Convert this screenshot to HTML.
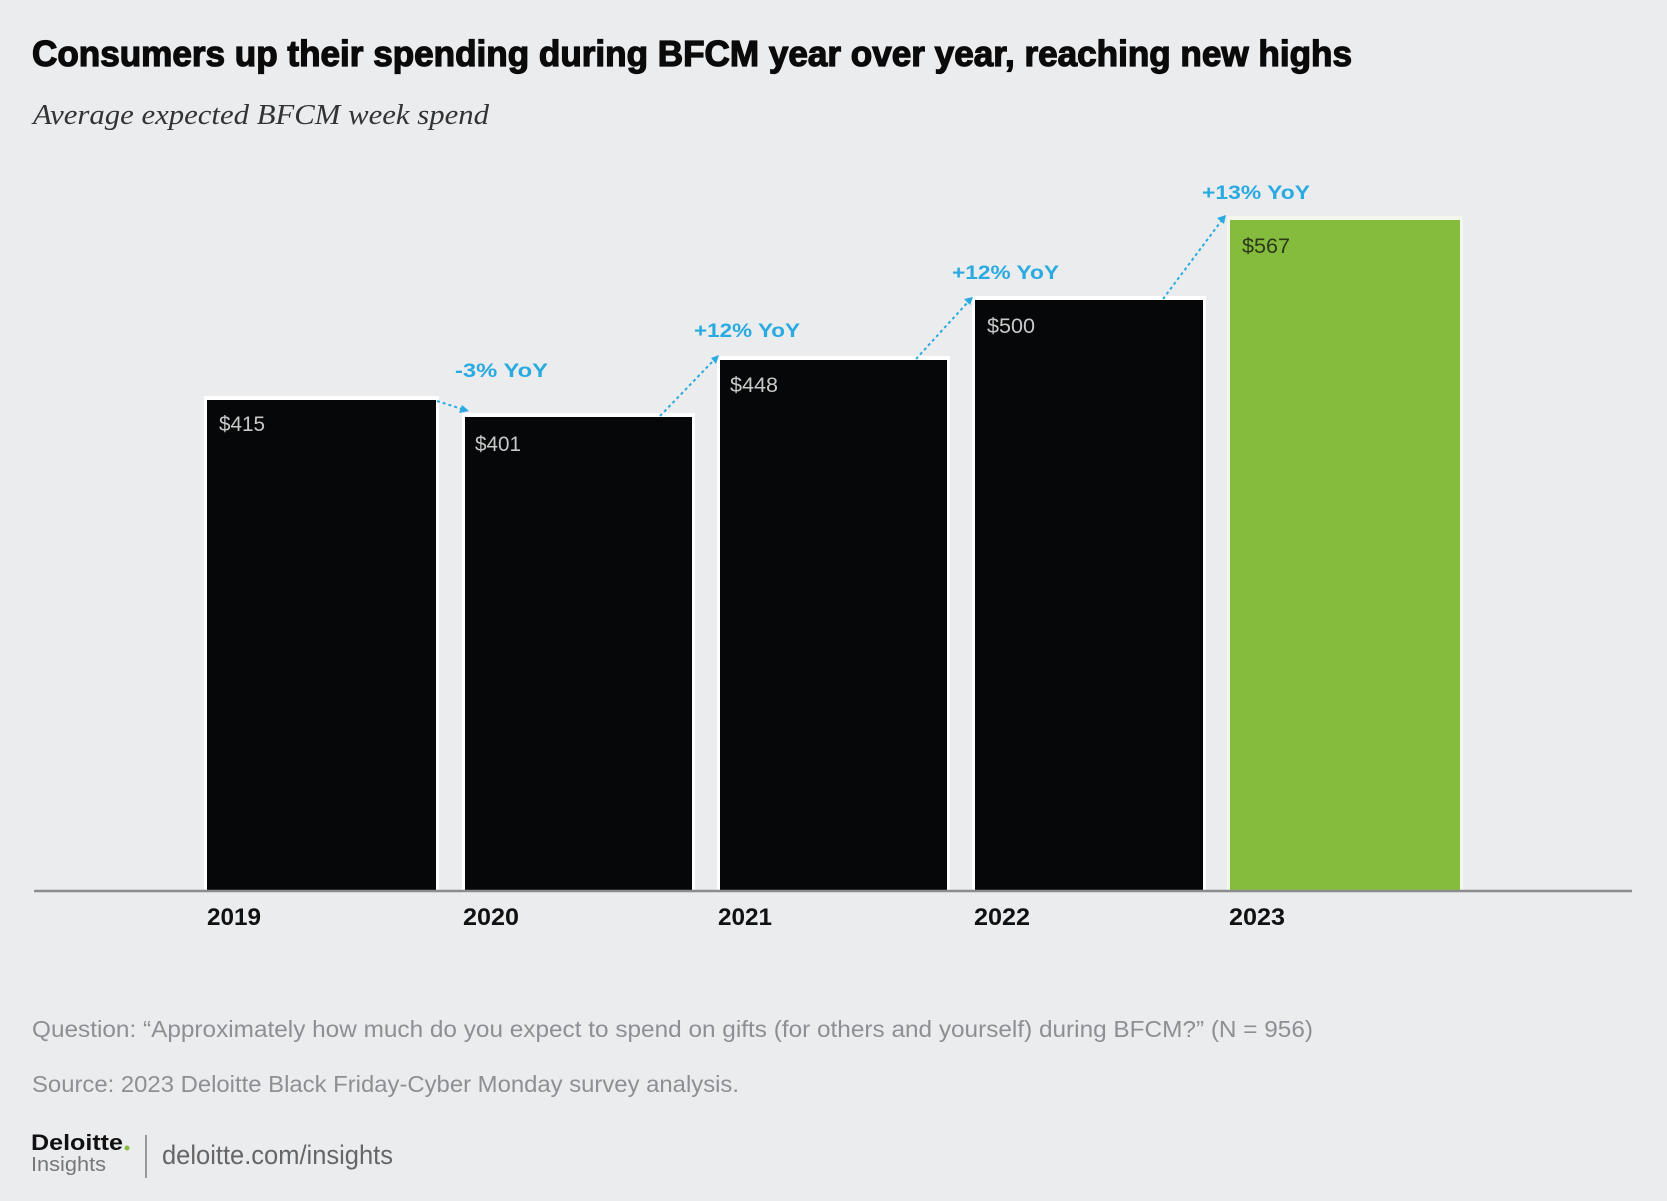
<!DOCTYPE html>
<html><head><meta charset="utf-8"><style>
html,body{margin:0;padding:0;background:#ebecee;}
svg{display:block;}
</style></head><body>
<svg width="1667" height="1201" viewBox="0 0 1667 1201" xmlns="http://www.w3.org/2000/svg">
<rect width="1667" height="1201" fill="#ebecee"/>
<text x="32" y="66" font-family="Liberation Sans, sans-serif" font-weight="bold" font-size="36" fill="#0a0a0a" stroke="#0a0a0a" stroke-width="1.3" textLength="1320" lengthAdjust="spacingAndGlyphs">Consumers up their spending during BFCM year over year, reaching new highs</text>
<text x="33" y="124" font-family="Liberation Serif, serif" font-style="italic" font-size="28" fill="#333" textLength="456" lengthAdjust="spacingAndGlyphs">Average expected BFCM week spend</text>

<g>
<rect x="204" y="396" width="235" height="495" fill="#fff"/>
<rect x="207" y="400" width="229" height="491" fill="#060708"/>
<rect x="462" y="413" width="233" height="478" fill="#fff"/>
<rect x="465" y="417" width="227" height="474" fill="#060708"/>
<rect x="717" y="356" width="233" height="535" fill="#fff"/>
<rect x="720" y="360" width="227" height="531" fill="#060708"/>
<rect x="972" y="296" width="234" height="595" fill="#fff"/>
<rect x="975" y="300" width="228" height="591" fill="#060708"/>
<rect x="1227" y="216" width="236" height="675" fill="#f4f6ee"/>
<rect x="1230" y="220" width="230" height="671" fill="#86bc3e"/>
</g>
<line x1="34" y1="891" x2="1632" y2="891" stroke="#8a8c8f" stroke-width="2.5"/>

<g font-family="Liberation Sans, sans-serif" font-size="21" fill="#c8c8c8">
<text x="219" y="431" textLength="46" lengthAdjust="spacingAndGlyphs">$415</text>
<text x="475" y="451" textLength="46" lengthAdjust="spacingAndGlyphs">$401</text>
<text x="730" y="392" textLength="48" lengthAdjust="spacingAndGlyphs">$448</text>
<text x="987" y="333" textLength="48" lengthAdjust="spacingAndGlyphs">$500</text>
<text x="1242" y="253" textLength="48" lengthAdjust="spacingAndGlyphs" fill="#2a3a1a">$567</text>
</g>

<g font-family="Liberation Sans, sans-serif" font-weight="bold" font-size="24" fill="#111">
<text x="207" y="925" textLength="54" lengthAdjust="spacingAndGlyphs">2019</text>
<text x="463" y="925" textLength="56" lengthAdjust="spacingAndGlyphs">2020</text>
<text x="718" y="925" textLength="54" lengthAdjust="spacingAndGlyphs">2021</text>
<text x="974" y="925" textLength="56" lengthAdjust="spacingAndGlyphs">2022</text>
<text x="1229" y="925" textLength="56" lengthAdjust="spacingAndGlyphs">2023</text>
</g>

<g font-family="Liberation Sans, sans-serif" font-weight="bold" font-size="19" fill="#29aae1">
<text x="455" y="377" textLength="93" lengthAdjust="spacingAndGlyphs">-3% YoY</text>
<text x="694" y="337" textLength="106" lengthAdjust="spacingAndGlyphs">+12% YoY</text>
<text x="952" y="279" textLength="107" lengthAdjust="spacingAndGlyphs">+12% YoY</text>
<text x="1202" y="199" textLength="108" lengthAdjust="spacingAndGlyphs">+13% YoY</text>
</g>
<g stroke="#29aae1" stroke-width="2" stroke-dasharray="3,3" fill="none">
<line x1="437" y1="401" x2="465" y2="410"/>
<line x1="660" y1="416" x2="714" y2="360"/>
<line x1="916" y1="359" x2="968" y2="302"/>
<line x1="1163" y1="299" x2="1222" y2="220"/>
</g>
<g fill="#29aae1">
<polygon points="469,411 459,413 462,405"/>
<polygon points="719,355 711,358 716,364"/>
<polygon points="973,297 964,299 970,305"/>
<polygon points="1226,215 1217,218 1224,224"/>
</g>

<g font-family="Liberation Sans, sans-serif" font-size="23" fill="#8c9094">
<text x="32" y="1037" textLength="1281" lengthAdjust="spacingAndGlyphs">Question: “Approximately how much do you expect to spend on gifts (for others and yourself) during BFCM?” (N = 956)</text>
<text x="32" y="1092" textLength="707" lengthAdjust="spacingAndGlyphs">Source: 2023 Deloitte Black Friday-Cyber Monday survey analysis.</text>
</g>
<text x="31" y="1150" font-family="Liberation Sans, sans-serif" font-weight="bold" font-size="22" fill="#111" textLength="92" lengthAdjust="spacingAndGlyphs">Deloitte</text>
<circle cx="127" cy="1148" r="2.5" fill="#86bc3e"/>
<text x="31" y="1171" font-family="Liberation Sans, sans-serif" font-size="20" fill="#777" textLength="75" lengthAdjust="spacingAndGlyphs">Insights</text>
<line x1="146" y1="1135" x2="146" y2="1178" stroke="#999" stroke-width="2"/>
<text x="162" y="1164" font-family="Liberation Sans, sans-serif" font-size="27" fill="#666" textLength="231" lengthAdjust="spacingAndGlyphs">deloitte.com/insights</text>
</svg>
</body></html>
